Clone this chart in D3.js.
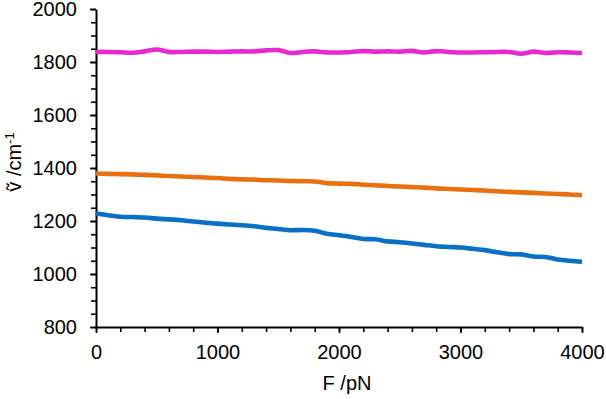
<!DOCTYPE html>
<html>
<head>
<meta charset="utf-8">
<script src="https://cdn.jsdelivr.net/npm/d3@7"></script>
<style>
  body { margin: 0; background: #fff; }
  svg { display: block; }
</style>
</head>
<body>
<div class="center"></div>
<script>
// data
var force = [0, 100, 200, 300, 400, 500, 600, 700, 800, 900, 1000, 1100, 1200, 1300, 1400,
    1500, 1600, 1700, 1800, 1900, 2000, 2100, 2200, 2300, 2400, 2500, 2600, 2700, 2800,
    2900, 3000, 3100, 3200, 3300, 3400, 3500, 3600, 3700, 3800, 3900, 4000];

var blueVals = [1228, 1222, 1216, 1215, 1213, 1209, 1206, 1203, 1198, 1194, 1190, 1187, 1184, 1180,
    1174, 1170, 1165, 1166, 1163, 1152, 1146, 1140, 1132, 1131, 1123, 1120, 1115, 1110, 1105,
    1102, 1100, 1095, 1090, 1082, 1075, 1074, 1066, 1064, 1055, 1050, 1046];

var orangeVals = [1379, 1378, 1377, 1376, 1374, 1372, 1370, 1368, 1366, 1364, 1362, 1359, 1357, 1356,
    1354, 1353, 1351, 1350, 1349, 1343, 1341, 1340, 1337, 1335, 1332, 1330, 1328, 1326, 1323,
    1321, 1319, 1317, 1315, 1312, 1310, 1308, 1306, 1304, 1302, 1300, 1297];

var magentaVals = [1838, 1838, 1837, 1835, 1840, 1847, 1838, 1838, 1839, 1839, 1838, 1839, 1840, 1840,
    1844, 1845, 1834, 1838, 1840, 1836, 1836, 1838, 1841, 1839, 1840, 1839, 1842, 1836, 1841,
    1838, 1836, 1836, 1837, 1838, 1838, 1831, 1839, 1834, 1837, 1836, 1834];

var xTicks = [0, 1000, 2000, 3000, 4000];
var yTicks = [800, 1000, 1200, 1400, 1600, 1800, 2000];

var series = [
    {name: "magenta", color: "#e52bcf", values: magentaVals},
    {name: "orange", color: "#e8700f", values: orangeVals},
    {name: "blue", color: "#0a70c4", values: blueVals}
];

var margin = {top: 9, right: 24, bottom: 72, left: 96},
    width = 606 - margin.left - margin.right,
    height = 399 - margin.top - margin.bottom;

var x = d3.scaleLinear().domain([0, 4000]).range([0, width]);
var y = d3.scaleLinear().domain([800, 2000]).range([height, 0]);

var svg = d3.select(".center").append("svg")
    .attr("width", 606)
    .attr("height", 399)
    .append("g")
    .attr("transform", "translate(" + margin.left + "," + margin.top + ")");

var font = "'Liberation Sans', Arial, sans-serif";
var fmt = d3.format("d");

// minor ticks
svg.append("g")
    .attr("transform", "translate(0," + height + ")")
    .call(d3.axisBottom(x).tickValues(d3.range(0, 4001, 200)).tickSize(5).tickFormat(""))
    .call(function(g) { g.select(".domain").remove(); })
    .selectAll("line").attr("stroke-width", 1.6);

svg.append("g")
    .call(d3.axisLeft(y).tickValues(d3.range(800, 2001, 50)).tickSize(5).tickFormat(""))
    .call(function(g) { g.select(".domain").remove(); })
    .selectAll("line").attr("stroke-width", 1.6);

// major axes
var xAxis = svg.append("g")
    .attr("transform", "translate(0," + height + ")")
    .call(d3.axisBottom(x).tickValues(xTicks).tickFormat(fmt).tickSize(6).tickPadding(12).tickSizeOuter(0));

var yAxis = svg.append("g")
    .call(d3.axisLeft(y).tickValues(yTicks).tickFormat(fmt).tickSize(6).tickPadding(13).tickSizeOuter(0));

[xAxis, yAxis].forEach(function(a) {
    a.select(".domain").attr("stroke-width", 2);
    a.selectAll("line").attr("stroke-width", 1.6);
    a.selectAll("text")
        .attr("font-family", font)
        .attr("font-size", "20px")
        .attr("fill", "#000");
});

// lines
var line = d3.line()
    .x(function(d) { return x(d.f); })
    .y(function(d) { return y(d.v); })
    .curve(d3.curveCatmullRom);

series.forEach(function(s) {
    var pts = force.map(function(f, i) { return {f: f, v: s.values[i]}; });
    svg.append("path")
        .datum(pts)
        .attr("fill", "none")
        .attr("stroke", s.color)
        .attr("stroke-width", 4.6)
        .attr("stroke-linejoin", "round")
        .attr("d", line);
});

// axis titles
svg.append("text")
    .attr("font-family", font)
    .attr("font-size", "20px")
    .attr("x", width / 2 + 8)
    .attr("y", height + 63)
    .attr("text-anchor", "middle")
    .text("F /pN");

var yl = svg.append("text")
    .attr("font-family", font)
    .attr("font-size", "20px")
    .attr("transform", "rotate(-90)")
    .attr("x", -height / 2 + 6)
    .attr("y", -margin.left + 21)
    .attr("text-anchor", "middle");
yl.append("tspan").text("\u1E7D /cm");
yl.append("tspan").attr("font-size", "13px").attr("dy", "-7").text("-1");
</script>
</body>
</html>
